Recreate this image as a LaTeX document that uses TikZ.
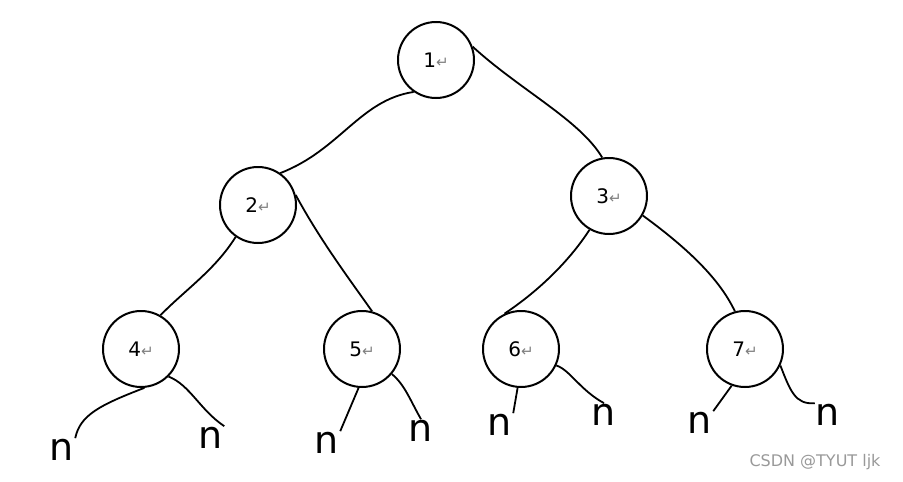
\documentclass[tikz,border=0pt]{standalone}
\usepackage{fontspec}
\setmainfont{DejaVu Sans}
\begin{document}
\begin{tikzpicture}[x=1pt,y=-1pt,
  tn/.style={circle,draw,line width=2pt,minimum size=76pt,inner sep=0pt},
  nl/.style={inner sep=1pt,font=\fontsize{38}{38}\selectfont},
  ed/.style={line width=1.8pt}]
\useasboundingbox (0,0) rectangle (903,482);
\newcommand{\lbl}[1]{\fontsize{20}{20}\selectfont #1\textcolor{gray}{\fontsize{15}{15}\selectfont ↵}}
\node[tn] (a1) at (436,60) {\lbl{1}};
\node[tn] (a2) at (258,205) {\lbl{2}};
\node[tn] (a3) at (609,196) {\lbl{3}};
\node[tn] (a4) at (141,349) {\lbl{4}};
\node[tn] (a5) at (362,349) {\lbl{5}};
\node[tn] (a6) at (521,349) {\lbl{6}};
\node[tn] (a7) at (745,349) {\lbl{7}};
\node[nl] (n1) at (62,450) {n};
\node[nl] (n2) at (211,438) {n};
\node[nl] (n3) at (327,443) {n};
\node[nl] (n4) at (421,431) {n};
\node[nl] (n5) at (500,425) {n};
\node[nl] (n6) at (604,415) {n};
\node[nl] (n7) at (700,423) {n};
\node[nl] (n8) at (828,415) {n};
\draw[ed] (a1.235) .. controls (360,100) and (340,150) .. (a2.55);
\draw[ed] (a1.20) .. controls (520,90) and (580,120) .. (a3.100);
\draw[ed] (a2.235) .. controls (215,270) and (185,290) .. (a4.60);
\draw[ed] (a2.15) .. controls (320,240) and (350,280) .. (a5.75);
\draw[ed] (a3.240) .. controls (570,260) and (540,290) .. (a6.115);
\draw[ed] (a3.330) .. controls (690,250) and (720,280) .. (a7.105);
\draw[ed] (a4.275) .. controls (100,405) and (80,415) .. (n1.north east);
\draw[ed] (a4.315) .. controls (190,385) and (200,410) .. (n2.north east);
\draw[ed] (a5.265) -- (n3.north east);
\draw[ed] (a5.320) .. controls (405,385) and (410,400) .. (n4.north);
\draw[ed] (a6.265) -- (n5.north east);
\draw[ed] (a6.335) .. controls (570,370) and (580,390) .. (n6.north);
\draw[ed] (a7.250) -- (n7.north east);
\draw[ed] (a7.335) .. controls (790,390) and (795,405) .. (n8.north west);
\node[text=gray!80,font=\fontsize{16}{16}\selectfont] (wm) at (815,462) {CSDN @TYUT ljk};
\end{tikzpicture}
\end{document}
